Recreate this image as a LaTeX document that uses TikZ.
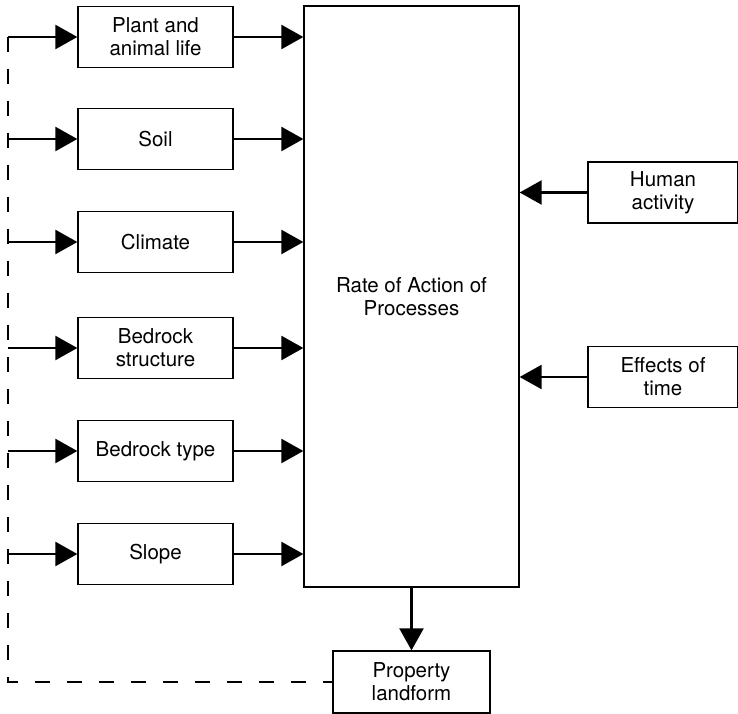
\documentclass[tikz,border=0pt]{standalone}
\usepackage{fontspec}
\setmainfont{TeX Gyre Heros}
\usetikzlibrary{arrows.meta}
\begin{document}
\begin{tikzpicture}[x=1pt,y=1pt,
  box/.style={draw, line width=1.3pt, minimum width=155pt, minimum height=61pt,
    align=center, inner sep=0pt, font=\fontsize{20.5}{23}\selectfont},
  flow/.style={line width=2.4pt, -{Triangle[length=22pt,width=24pt]}},
  feedback/.style={line width=2.6pt, dash pattern=on 15pt off 17pt}]
\useasboundingbox (0,0) rectangle (738,713);

% factor boxes on the left
\node[box] (plant)   at (155.5,676) {Plant and\\animal life};
\node[box] (soil)    at (155.5,574) {Soil};
\node[box] (climate) at (155.5,471) {Climate};
\node[box] (bstruct) at (155.5,365) {Bedrock\\structure};
\node[box] (btype)   at (155.5,262) {Bedrock type};
\node[box] (slope)   at (155.5,159) {Slope};

% central process box
\node[box, minimum width=215pt, minimum height=581pt] (rate) at (411.5,416.5)
  {Rate of Action of\\Processes};

% external influences on the right
\node[box, minimum width=150pt] (human)   at (663,520.5) {Human\\activity};
\node[box, minimum width=150pt] (effects) at (663,336)   {Effects of\\time};

% resulting landform
\node[box, minimum width=157pt, minimum height=62pt] (prop) at (411.5,31)
  {Property\\landform};

% points on the feedback line
\coordinate (fb1) at (8,676);
\coordinate (fb2) at (8,574);
\coordinate (fb3) at (8,471);
\coordinate (fb4) at (8,365);
\coordinate (fb5) at (8,262);
\coordinate (fb6) at (8,159);

% feedback from the landform
\draw[feedback] (fb1) |- (prop.west);

% inputs into the factors
\foreach \c/\n in {fb1/plant, fb2/soil, fb3/climate, fb4/bstruct, fb5/btype, fb6/slope}
  \draw[flow] (\c) -- (\n.west);

% factors into the processes
\foreach \n in {plant, soil, climate, bstruct, btype, slope}
  \draw[flow] (\n.east) -- (\n.east -| rate.west);

% influences into the processes
\draw[flow] (human.west) -- (human.west -| rate.east);
\draw[flow] (effects.west) -- (effects.west -| rate.east);

% processes produce the landform
\draw[flow] (rate.south) -- (prop.north);
\end{tikzpicture}
\end{document}
